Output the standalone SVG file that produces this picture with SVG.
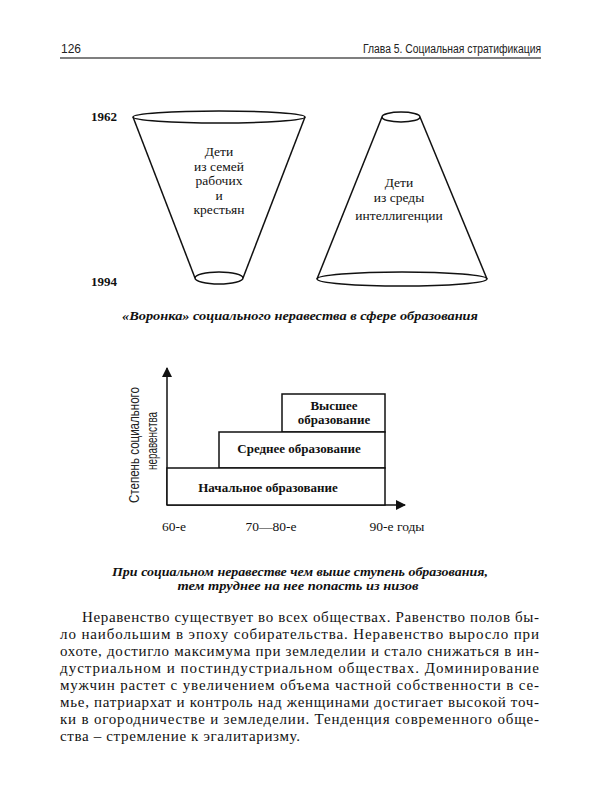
<svg xmlns="http://www.w3.org/2000/svg" width="600" height="800" viewBox="0 0 600 800">
<defs>
<style>
.ser{font-family:"Liberation Serif","Times New Roman",serif;fill:#111}
.sans{font-family:"Liberation Sans",Arial,sans-serif;fill:#222}
.ln{fill:none;stroke:#111;stroke-width:1.5}
.bx{fill:#fff;stroke:#111;stroke-width:1.5}
.fn{font-size:13.5px;text-anchor:middle}
.yr{font-size:13px;font-weight:bold}
.cap{font-size:13px;font-style:italic;font-weight:bold;text-anchor:middle}
.lab{font-size:13px;font-weight:bold;text-anchor:middle}
.xl{font-size:13.5px;text-anchor:middle}
.body{font-size:15px}
</style>
<marker id="ah" viewBox="0 0 10 10" refX="9" refY="5" markerWidth="10" markerHeight="10" markerUnits="userSpaceOnUse" orient="auto">
<path d="M0,0 L10,5 L0,10 Z" fill="#111"/>
</marker>
</defs>
<rect width="600" height="800" fill="#fff"/>

<g id="header">
<text class="sans" x="61" y="53" font-size="12">126</text>
<text class="sans" x="541" y="53" font-size="12" text-anchor="end" textLength="178" lengthAdjust="spacingAndGlyphs">Глава 5. Социальная стратификация</text>
<line x1="60" y1="58" x2="541" y2="58" stroke="#555" stroke-width="1.5"/>
</g>

<g id="years">
<text class="ser yr" x="91" y="121">1962</text>
<text class="ser yr" x="91" y="286">1994</text>
</g>

<g id="funnel1">
<ellipse class="ln" cx="219" cy="117" rx="86" ry="6"/>
<ellipse class="ln" cx="219" cy="278" rx="24" ry="6"/>
<line class="ln" x1="133" y1="117" x2="195" y2="278"/>
<line class="ln" x1="305" y1="117" x2="243" y2="278"/>
<text class="ser fn" x="219" y="156">Дети</text>
<text class="ser fn" x="219" y="171">из семей</text>
<text class="ser fn" x="219" y="185">рабочих</text>
<text class="ser fn" x="219" y="200">и</text>
<text class="ser fn" x="219" y="214">крестьян</text>
</g>

<g id="funnel2">
<ellipse class="ln" cx="401" cy="117" rx="19" ry="5"/>
<ellipse class="ln" cx="402" cy="279" rx="85" ry="7"/>
<line class="ln" x1="382" y1="117" x2="317" y2="279"/>
<line class="ln" x1="420" y1="117" x2="487" y2="279"/>
<text class="ser fn" x="399" y="187">Дети</text>
<text class="ser fn" x="399" y="202">из среды</text>
<text class="ser fn" x="399" y="220">интеллигенции</text>
</g>

<text class="ser cap" x="300" y="320" textLength="356" lengthAdjust="spacingAndGlyphs">«Воронка» социального неравества в сфере образования</text>

<g id="connectors">
<line class="ln" x1="167" y1="505" x2="167" y2="368" marker-end="url(#ah)"/>
<line class="ln" x1="167" y1="505" x2="405" y2="505" marker-end="url(#ah)"/>
</g>

<g id="box-higher">
<rect class="bx" x="282" y="394" width="103" height="38"/>
<text class="ser lab" x="334" y="410">Высшее</text>
<text class="ser lab" x="334" y="424">образование</text>
</g>
<g id="box-middle">
<rect class="bx" x="219" y="432" width="166" height="36"/>
<text class="ser lab" x="299" y="453">Среднее образование</text>
</g>
<g id="box-primary">
<rect class="bx" x="167" y="468" width="218" height="37"/>
<text class="ser lab" x="268" y="492">Начальное образование</text>
</g>

<g id="ylabel">
<text class="sans" transform="translate(139,445) rotate(-90)" font-size="15" text-anchor="middle" textLength="116" lengthAdjust="spacingAndGlyphs">Степень социального</text>
<text class="sans" transform="translate(157,441) rotate(-90)" font-size="15" text-anchor="middle" textLength="58" lengthAdjust="spacingAndGlyphs">неравенства</text>
</g>

<g id="xlabels">
<text class="ser xl" x="174" y="531">60-е</text>
<text class="ser xl" x="271" y="531">70—80-е</text>
<text class="ser xl" x="397" y="531">90-е годы</text>
</g>

<g id="caption2">
<text class="ser cap" x="300" y="576" textLength="376" lengthAdjust="spacingAndGlyphs">При социальном неравестве чем выше ступень образования,</text>
<text class="ser cap" x="298" y="590" textLength="241" lengthAdjust="spacingAndGlyphs">тем труднее на нее попасть из низов</text>
</g>

<g id="body">
<text class="ser body" x="82" y="622" textLength="457" lengthAdjust="spacing">Неравенство существует во всех обществах. Равенство полов бы-</text>
<text class="ser body" x="60" y="639" textLength="479" lengthAdjust="spacing">ло наибольшим в эпоху собирательства. Неравенство выросло при</text>
<text class="ser body" x="60" y="656" textLength="479" lengthAdjust="spacing">охоте, достигло максимума при земледелии и стало снижаться в ин-</text>
<text class="ser body" x="60" y="673" textLength="479" lengthAdjust="spacing">дустриальном и постиндустриальном обществах. Доминирование</text>
<text class="ser body" x="60" y="690" textLength="479" lengthAdjust="spacing">мужчин растет с увеличением объема частной собственности в се-</text>
<text class="ser body" x="60" y="707" textLength="479" lengthAdjust="spacing">мье, патриархат и контроль над женщинами достигает высокой точ-</text>
<text class="ser body" x="60" y="724" textLength="479" lengthAdjust="spacing">ки в огородничестве и земледелии. Тенденция современного обще-</text>
<text class="ser body" x="60" y="741" textLength="240" lengthAdjust="spacing">ства – стремление к эгалитаризму.</text>
</g>
</svg>
